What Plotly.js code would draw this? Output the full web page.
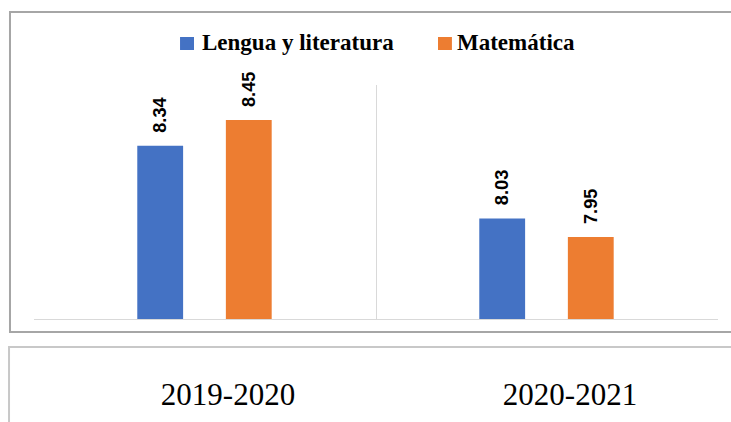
<!DOCTYPE html>
<html>
<head>
<meta charset="utf-8">
<script src="https://cdn.plot.ly/plotly-3.0.1.min.js"></script>
<style>
  html, body { margin: 0; padding: 0; background: #ffffff; overflow: hidden; }
  #chart { width: 731px; height: 422px; overflow: hidden; }
</style>
</head>
<body>
<div id="chart"></div>
<script>
// ---- data ----
const categories = ["2019-2020", "2020-2021"];
const seriesNames = ["Lengua y literatura", "Matemática"];
const lenguaValues = [8.34, 8.03];
const matematicaValues = [8.45, 7.95];

const colors = ["#4472C4", "#ED7D31"];

const labelFont = { family: "Liberation Sans, Arial, sans-serif", size: 19, color: "#000000", weight: "bold" };
const legendFont = { family: "Liberation Serif, Times New Roman, serif", size: 23, color: "#000000", weight: "bold" };

function barTrace(name, values, color, offset) {
  return {
    type: "bar",
    name: name,
    x: categories,
    y: values,
    width: 0.134,
    offset: offset,
    marker: { color: color },
    texttemplate: "\u00a0\u00a0%{y:.2f}",
    textposition: "outside",
    textangle: -90,
    textfont: labelFont,
    cliponaxis: false,
    hoverinfo: "skip",
    showlegend: false
  };
}

const data = [
  barTrace(seriesNames[0], lenguaValues, colors[0], -0.198),
  barTrace(seriesNames[1], matematicaValues, colors[1], 0.061)
];

// legend drawn as squares + text (layout positions in paper units)
const legendSquareX = [0.2135, 0.5906];
const legendTextX = [0.2441, 0.6169];
const legendShapes = seriesNames.map((n, i) => ({
  type: "rect", xref: "paper", yref: "paper",
  x0: legendSquareX[i], x1: legendSquareX[i] + 0.0204,
  y0: 1.1496, y1: 1.2051,
  line: { width: 0 },
  fillcolor: colors[i]
}));
const legendAnnotations = seriesNames.map((n, i) => ({
  xref: "paper", yref: "paper",
  x: legendTextX[i], y: 1.182,
  xanchor: "left", yanchor: "middle",
  text: n,
  showarrow: false,
  font: legendFont,
  borderpad: 0
}));

const layout = {
  width: 731,
  height: 422,
  margin: { l: 34, r: 13, t: 85, b: 103, pad: 0 },
  paper_bgcolor: "#ffffff",
  plot_bgcolor: "#ffffff",
  barmode: "overlay",
  showlegend: false,
  xaxis: {
    type: "category",
    tickson: "boundaries",
    showgrid: true,
    gridcolor: "#d9d9d9",
    gridwidth: 1,
    showline: true,
    linecolor: "#d9d9d9",
    linewidth: 1,
    mirror: false,
    ticks: "",
    ticklabelstandoff: 48,
    ticklabelshift: 23,
    tickfont: { family: "Liberation Serif, Times New Roman, serif", size: 31, color: "#000000" },
    range: [-0.5, 1.5],
    zeroline: false
  },
  yaxis: {
    range: [7.6, 8.6],
    showgrid: false,
    showticklabels: false,
    ticks: "",
    showline: false,
    zeroline: false
  },
  annotations: legendAnnotations,
  shapes: [
    {
      type: "path", xref: "paper", yref: "paper",
      path: "M 1.0205 -0.0556 L -0.0351 -0.0556 L -0.0351 1.312 L 1.0205 1.312",
      line: { color: "#a6a6a6", width: 2 },
      fillcolor: "rgba(0,0,0,0)",
      layer: "below"
    },
    {
      type: "path", xref: "paper", yref: "paper",
      path: "M 1.0205 -0.1197 L -0.0365 -0.1197 L -0.0365 -0.6",
      line: { color: "#c8c8c8", width: 2 },
      fillcolor: "rgba(0,0,0,0)",
      layer: "below"
    }
  ].concat(legendShapes)
};

Plotly.newPlot("chart", data, layout, { displayModeBar: false, staticPlot: true });
</script>
</body>
</html>
